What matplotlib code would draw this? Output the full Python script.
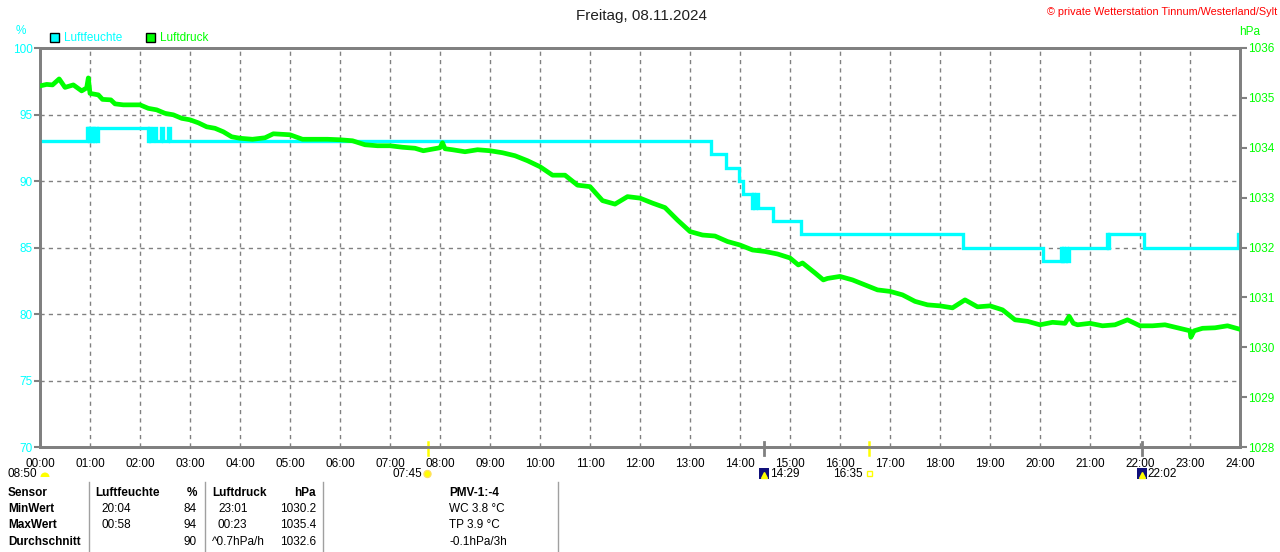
import numpy as np
import matplotlib
matplotlib.use('Agg')
import matplotlib.pyplot as plt
from matplotlib.patches import Rectangle, Wedge, Circle
import matplotlib.transforms as mtransforms

plt.rcParams['font.family'] = ['Liberation Sans', 'DejaVu Sans']

# --- data ---
title = 'Freitag, 08.11.2024'
credit = '\u00a9 private Wetterstation Tinnum/Westerland/Sylt'

hour_labels = [f'{h:02d}:00' for h in range(25)]

# Luftfeuchte (%), step series
hum_times = ['00:00', '00:56', '00:57', '00:58', '00:59', '01:00', '01:02', '01:03', '01:05',
             '01:06', '01:08', '01:10', '02:10', '02:11', '02:12', '02:16', '02:19', '02:25',
             '02:27', '02:33', '02:36', '13:25', '13:43', '13:59', '14:04', '14:14', '14:16',
             '14:17', '14:19', '14:21', '14:39', '15:13', '18:28', '20:03', '20:25', '20:26',
             '20:28', '20:29', '20:31', '20:32', '20:35', '21:20', '21:22', '21:23', '21:26',
             '22:05', '23:57', '24:00']
hum_vals = [93, 94, 93, 94, 93, 94, 93, 94, 93,
            94, 93, 94, 93, 94, 93, 94, 93, 94,
            93, 94, 93, 92, 91, 90, 89, 88, 89,
            88, 89, 88, 87, 86, 85, 84, 85, 84,
            85, 84, 85, 84, 85, 86, 85, 86, 86,
            85, 86, 86]

# Luftdruck (hPa)
p_times = ['00:00', '00:08', '00:15', '00:23', '00:30', '00:40', '00:50', '00:56', '00:58', '01:00',
           '01:10', '01:15', '01:25', '01:30', '01:40', '01:50', '02:00', '02:10', '02:20', '02:30',
           '02:40', '02:50', '03:00', '03:10', '03:20', '03:30', '03:40', '03:50', '04:00', '04:15',
           '04:30', '04:40', '05:00', '05:15', '05:30', '05:45', '06:00', '06:15', '06:30', '06:45',
           '07:00', '07:15', '07:30', '07:40', '08:00', '08:03', '08:06', '08:15', '08:30', '08:45',
           '09:00', '09:15', '09:30', '09:45', '10:00', '10:15', '10:30', '10:45', '11:00', '11:15',
           '11:30', '11:45', '12:00', '12:15', '12:30', '12:45', '13:00', '13:15', '13:30', '13:45',
           '14:00', '14:15', '14:30', '14:45', '15:00', '15:10', '15:15', '15:30', '15:40', '15:45',
           '16:00', '16:15', '16:30', '16:45', '17:00', '17:15', '17:30', '17:45', '18:00', '18:15',
           '18:30', '18:45', '19:00', '19:15', '19:30', '19:45', '20:00', '20:15', '20:30', '20:35',
           '20:40', '20:45', '21:00', '21:15', '21:30', '21:45', '22:00', '22:15', '22:30', '22:45',
           '23:00', '23:01', '23:05', '23:15', '23:30', '23:45', '24:00']
p_vals = [1035.24, 1035.27, 1035.26, 1035.38, 1035.21, 1035.26, 1035.14, 1035.20, 1035.40, 1035.09,
          1035.06, 1034.97, 1034.96, 1034.88, 1034.86, 1034.86, 1034.86, 1034.79, 1034.76, 1034.69,
          1034.66, 1034.59, 1034.56, 1034.50, 1034.42, 1034.39, 1034.32, 1034.22, 1034.19, 1034.17,
          1034.20, 1034.28, 1034.26, 1034.17, 1034.17, 1034.17, 1034.16, 1034.14, 1034.06, 1034.04,
          1034.04, 1034.01, 1033.99, 1033.94, 1034.00, 1034.10, 1033.98, 1033.96, 1033.92, 1033.96,
          1033.94, 1033.90, 1033.84, 1033.74, 1033.62, 1033.45, 1033.45, 1033.25, 1033.22, 1032.94,
          1032.87, 1033.02, 1032.99, 1032.89, 1032.80, 1032.55, 1032.32, 1032.25, 1032.23, 1032.12,
          1032.05, 1031.95, 1031.92, 1031.87, 1031.79, 1031.65, 1031.69, 1031.49, 1031.35, 1031.38,
          1031.42, 1031.35, 1031.25, 1031.15, 1031.12, 1031.05, 1030.92, 1030.85, 1030.83, 1030.79,
          1030.95, 1030.81, 1030.83, 1030.75, 1030.55, 1030.52, 1030.45, 1030.50, 1030.48, 1030.62,
          1030.48, 1030.45, 1030.48, 1030.43, 1030.45, 1030.55, 1030.43, 1030.43, 1030.45, 1030.39,
          1030.33, 1030.20, 1030.33, 1030.38, 1030.39, 1030.43, 1030.36]

# sun / moon events on the time axis
sun_times = ['07:45', '16:35']
moon_times = ['14:29', '22:02']

# statistics table
table_rows = ['Sensor', 'MinWert', 'MaxWert', 'Durchschnitt']
hum_stat_time = ['20:04', '00:58', '']
hum_stat_val = ['84', '94', '90']
p_stat_time = ['23:01', '00:23', '^0.7hPa/h']
p_stat_val = ['1030.2', '1035.4', '1032.6']
pmv_lines = ['WC 3.8 \u00b0C', 'TP 3.9 \u00b0C', '-0.1hPa/3h']


def to_h(s):
    hh, mm = s.split(':')
    return int(hh) + int(mm) / 60.0


CYAN = '#00FFFF'
GREEN = '#00FF00'
GRAY = '#808080'

W, H = 1280, 552
fig = plt.figure(figsize=(W / 100, H / 100), dpi=100)
fig.patch.set_facecolor('white')

# plot area in pixels: x 40..1240, y 48..447
ax = fig.add_axes([40 / W, 1 - 447 / H, 1200 / W, 399 / H])
ax2 = ax.twinx()

ax.set_xlim(0, 24)
ax.set_ylim(70, 100)
ax2.set_ylim(1028, 1036)

# grid
for h in range(1, 24):
    ax.axvline(h, color=GRAY, lw=1, ls=(0, (3, 3)), zorder=1)
for v in [75, 80, 85, 90, 95]:
    ax.axhline(v, color=GRAY, lw=1, ls=(0, (3, 3)), zorder=1)

ht = [to_h(t) for t in hum_times]
ax.plot(ht, hum_vals, color=CYAN, lw=2.4, drawstyle='steps-post', zorder=3,
        solid_joinstyle='miter')

pt = [to_h(t) for t in p_times]
ax2.plot(pt, p_vals, color=GREEN, lw=3.4, zorder=3)

for a in (ax, ax2):
    for s in a.spines.values():
        s.set_color(GRAY)
        s.set_linewidth(2)

ax.set_xticks(range(25))
ax.set_xticklabels(hour_labels, fontsize=8.5)
ax.tick_params(axis='x', length=0, pad=8, colors='black')
ax.set_yticks([70, 75, 80, 85, 90, 95, 100])
ax.tick_params(axis='y', length=4, width=1.5, color=GRAY, labelcolor=CYAN, labelsize=8.5, pad=1)
ax2.set_yticks(range(1028, 1037))
ax2.tick_params(axis='y', length=5, width=1.5, color=GRAY, labelcolor=GREEN, labelsize=8.5, pad=1)

# event markers on the time axis
trans = mtransforms.blended_transform_factory(ax.transData, ax.transAxes)
for t in sun_times:
    ax.plot([to_h(t)] * 2, [0.012, -0.02], color='#FFFF00', lw=1.8, transform=trans, clip_on=False, zorder=5)
for t in moon_times:
    ax.plot([to_h(t)] * 2, [0.012, -0.02], color=GRAY, lw=2, transform=trans, clip_on=False, zorder=5)

# overlay in pixel coordinates for texts and table
ov = fig.add_axes([0, 0, 1, 1], zorder=10)
ov.set_xlim(0, W)
ov.set_ylim(H, 0)
ov.axis('off')
ov.patch.set_visible(False)

ov.text(642, 16, title, ha='center', va='center', fontsize=11, color='#202020')
ov.text(1277, 12, credit, ha='right', va='center', fontsize=7.8, color='red')
ov.text(21, 31, '%', ha='center', va='center', fontsize=8.5, color=CYAN)
ov.text(1250, 32, 'hPa', ha='center', va='center', fontsize=8.5, color=GREEN)

# legend
ov.add_patch(Rectangle((50, 33), 9, 9, facecolor=CYAN, edgecolor='black', lw=1))
ov.text(64, 38, 'Luftfeuchte', va='center', fontsize=8.5, color=CYAN)
ov.add_patch(Rectangle((146, 33), 9, 9, facecolor=GREEN, edgecolor='black', lw=1))
ov.text(160, 38, 'Luftdruck', va='center', fontsize=8.5, color=GREEN)

# day length / sun and moon times below the axis
ov.text(8, 474, '08:50', va='center', fontsize=8.5)
ov.add_patch(Wedge((45, 477), 4.5, 180, 360, facecolor='#FFFF00', edgecolor='none'))
sx = [40 + 50 * to_h(t) for t in sun_times]
ov.text(sx[0] - 5, 474, sun_times[0], ha='right', va='center', fontsize=8.5)
ov.add_patch(Circle((sx[0], 474), 3.5, facecolor='#FFFF00', edgecolor='#FFE060', lw=1))
ov.text(sx[1] - 6, 474, sun_times[1], ha='right', va='center', fontsize=8.5)
ov.add_patch(Rectangle((sx[1] - 2, 471), 5, 5, facecolor='none', edgecolor='#FFFF00', lw=1))
for t in moon_times:
    mx = 40 + 50 * to_h(t)
    ov.add_patch(Rectangle((mx - 5, 468), 10, 11, facecolor='#10107A', edgecolor='none'))
    ov.plot([mx], [475], marker='^', color='#FFFF00', ms=4)
    ov.text(mx + 6, 474, t, ha='left', va='center', fontsize=8.5)

# table
row_y = [493, 509, 525, 542]
for y, r in zip(row_y, table_rows):
    ov.text(8, y, r, va='center', fontsize=8.5, fontweight='bold')
ov.text(95, row_y[0], 'Luftfeuchte', va='center', fontsize=8.5, fontweight='bold')
ov.text(197, row_y[0], '%', ha='right', va='center', fontsize=8.5, fontweight='bold')
ov.text(212, row_y[0], 'Luftdruck', va='center', fontsize=8.5, fontweight='bold')
ov.text(316, row_y[0], 'hPa', ha='right', va='center', fontsize=8.5, fontweight='bold')
ov.text(449, row_y[0], 'PMV-1:-4', va='center', fontsize=8.5, fontweight='bold')
for i in range(3):
    y = row_y[i + 1]
    ov.text(101, y, hum_stat_time[i], va='center', fontsize=8.5)
    ov.text(197, y, hum_stat_val[i], ha='right', va='center', fontsize=8.5)
    ov.text(212 if p_stat_time[i].startswith('^') else 218, y, p_stat_time[i], va='center', fontsize=8.5)
    ov.text(316, y, p_stat_val[i], ha='right', va='center', fontsize=8.5)
    ov.text(449, y, pmv_lines[i], va='center', fontsize=8.5)
for sx_ in [89, 205, 323, 558]:
    ov.plot([sx_, sx_], [482, 552], color='#A0A0A0', lw=1)

fig.savefig('out.png', dpi=100, facecolor='white')
